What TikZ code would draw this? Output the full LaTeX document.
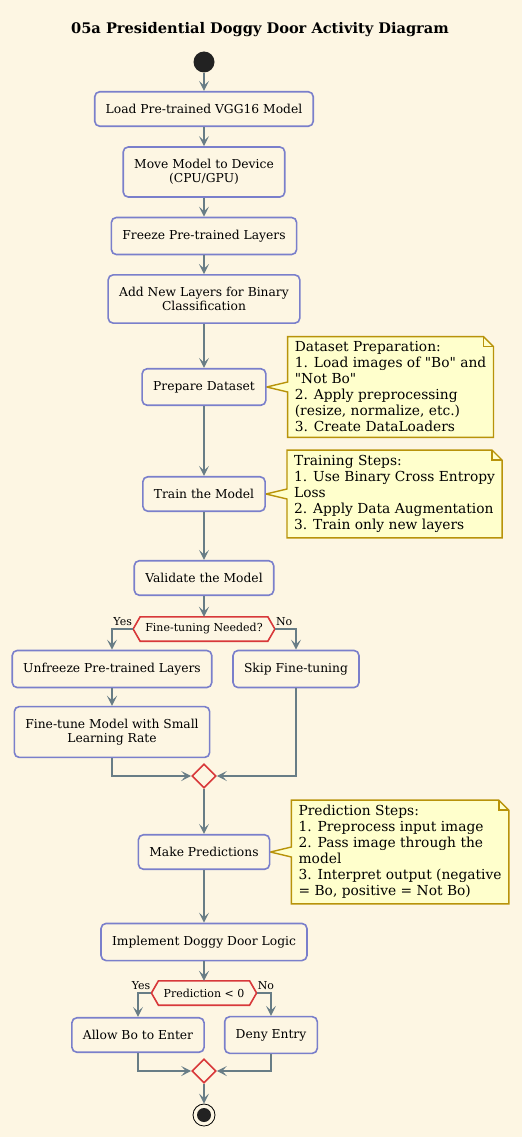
\documentclass[tikz,border=0pt]{standalone}
\usepackage{fontspec}
\setmainfont{DejaVu Serif}[Ligatures=TeXOff]
\usetikzlibrary{positioning,shapes.geometric,arrows.meta,backgrounds}
\definecolor{paper}{HTML}{FDF6E3}
\definecolor{actborder}{HTML}{7A7FCB}
\definecolor{flowgray}{HTML}{687D86}
\definecolor{decred}{HTML}{D8383A}
\definecolor{notefill}{HTML}{FFFFCC}
\definecolor{noteborder}{HTML}{B8930A}
\definecolor{dotblack}{HTML}{222222}

\tikzset{
  act/.style={draw=actborder,fill=paper,line width=1.6pt,rounded corners=5pt,align=center,
    font=\fontsize{12.3}{13.8}\selectfont,inner xsep=11pt,inner ysep=12.5pt},
  flow/.style={draw=flowgray,line width=1.5pt,-{Stealth[length=10pt,width=10pt,inset=4.5pt]}},
  notetext/.style={align=left,font=\fontsize{13.8}{16}\selectfont,inner xsep=7pt,inner ysep=5pt},
  noteshape/.style={draw=noteborder,fill=notefill,line width=1.4pt},
  hexa/.style={font=\fontsize{11}{13}\selectfont,inner xsep=5pt,inner ysep=0pt,minimum height=24pt},
  hexaline/.style={draw=decred,line width=1.6pt},
  merge/.style={diamond,draw=decred,fill=paper,line width=1.6pt,minimum size=24pt,inner sep=0pt},
  branch/.style={font=\fontsize{11}{13}\selectfont,inner sep=1pt},
}

% note with folded corner, pointing at an activity
\newcommand{\notebox}[2]{%
  \begin{scope}[on background layer]
    \path[noteshape] (#1.north west) -- ([xshift=-10pt]#1.north east) -- ([yshift=-10pt]#1.north east)
      -- (#1.south east) -- (#1.south west) -- ([yshift=-5pt]#1.west) -- (#2.east)
      -- ([yshift=5pt]#1.west) -- cycle;
    \draw[noteshape,fill=none] ([xshift=-10pt]#1.north east) -- ([xshift=-10pt,yshift=-10pt]#1.north east)
      -- ([yshift=-10pt]#1.north east);
  \end{scope}}

% hexagon round a decision node
\newcommand{\hexabox}[1]{%
  \coordinate (#1w) at ([xshift=-7pt]#1.west);
  \coordinate (#1e) at ([xshift=7pt]#1.east);
  \draw[hexaline] (#1w) -- (#1.north west) -- (#1.north east) -- (#1e) -- (#1.south east)
    -- (#1.south west) -- cycle;}

\begin{document}
\begin{tikzpicture}[x=1pt,y=-1pt]
        \begin{scope}[on background layer]
        \fill[paper] (0,0) rectangle (522,1137);
        \end{scope}

        \node[font=\fontsize{14.6}{16}\selectfont\bfseries] (title) at (260,30) {05a Presidential Doggy Door Activity Diagram};
        \node[circle,fill=dotblack,minimum size=21pt,inner sep=0pt] (start) at (204,62) {};

        \node[act] (load) at (204,109) {Load Pre-trained VGG16 Model};
        \node[act] (device) at (204,172) {Move Model to Device\\(CPU/GPU)};
        \node[act] (freeze) at (204,236) {Freeze Pre-trained Layers};
        \node[act] (addlayers) at (204,299) {Add New Layers for Binary\\Classification};
        \node[act] (prepare) at (204,387) {Prepare Dataset};
        \node[act] (train) at (204,494) {Train the Model};
        \node[act] (validate) at (204,578) {Validate the Model};

        \node[notetext,right=21pt of prepare] (prepnote) {Dataset Preparation:\\1. Load images of "Bo" and\\"Not Bo"\\2. Apply preprocessing\\(resize, normalize, etc.)\\3. Create DataLoaders};
        \node[notetext,right=21pt of train] (trainnote) {Training Steps:\\1. Use Binary Cross Entropy\\Loss\\2. Apply Data Augmentation\\3. Train only new layers};
        \notebox{prepnote}{prepare}
        \notebox{trainnote}{train}

        \node[hexa] (tune) at (204,629) {Fine-tuning Needed?};
        \hexabox{tune}
        \node[branch,anchor=south east] (tuneyes) at ([yshift=2pt]tunew) {Yes};
        \node[branch,anchor=south west] (tuneno) at ([yshift=2pt]tunee) {No};

        \node[act] (unfreeze) at (112,669) {Unfreeze Pre-trained Layers};
        \node[act] (finetune) at (112,732) {Fine-tune Model with Small\\Learning Rate};
        \node[act] (skip) at (296,669) {Skip Fine-tuning};
        \node[merge] (join1) at (204,776) {};

        \node[act] (predict) at (204,852) {Make Predictions};
        \node[notetext,right=21pt of predict] (prednote) {Prediction Steps:\\1. Preprocess input image\\2. Pass image through the\\model\\3. Interpret output (negative\\= Bo, positive = Not Bo)};
        \notebox{prednote}{predict}

        \node[act] (doggy) at (204,942) {Implement Doggy Door Logic};
        \node[hexa] (sign) at (204,993) {Prediction < 0};
        \hexabox{sign}
        \node[branch,anchor=south east] (signyes) at ([yshift=2pt]signw) {Yes};
        \node[branch,anchor=south west] (signno) at ([yshift=2pt]signe) {No};

        \node[act] (allow) at (138,1035) {Allow Bo to Enter};
        \node[act] (deny) at (271,1035) {Deny Entry};
        \node[merge] (join2) at (204,1071) {};

        \node[circle,draw=black,line width=0.8pt,fill=paper,minimum size=22pt,inner sep=0pt] (stop) at (204,1115) {};
        \node[circle,fill=dotblack,minimum size=14pt,inner sep=0pt] (stopdot) at (stop) {};

        \draw[flow] (start) -- (load);
        \draw[flow] (load) -- (device);
        \draw[flow] (device) -- (freeze);
        \draw[flow] (freeze) -- (addlayers);
        \draw[flow] (addlayers) -- (prepare);
        \draw[flow] (prepare) -- (train);
        \draw[flow] (train) -- (validate);
        \draw[flow] (validate) -- (tune);
        \draw[flow] (tunew) -| (unfreeze);
        \draw[flow] (tunee) -| (skip);
        \draw[flow] (unfreeze) -- (finetune);
        \draw[flow] (finetune) |- (join1);
        \draw[flow] (skip) |- (join1);
        \draw[flow] (join1) -- (predict);
        \draw[flow] (predict) -- (doggy);
        \draw[flow] (doggy) -- (sign);
        \draw[flow] (signw) -| (allow);
        \draw[flow] (signe) -| (deny);
        \draw[flow] (allow) |- (join2);
        \draw[flow] (deny) |- (join2);
        \draw[flow] (join2) -- (stop);
\end{tikzpicture}
\end{document}
